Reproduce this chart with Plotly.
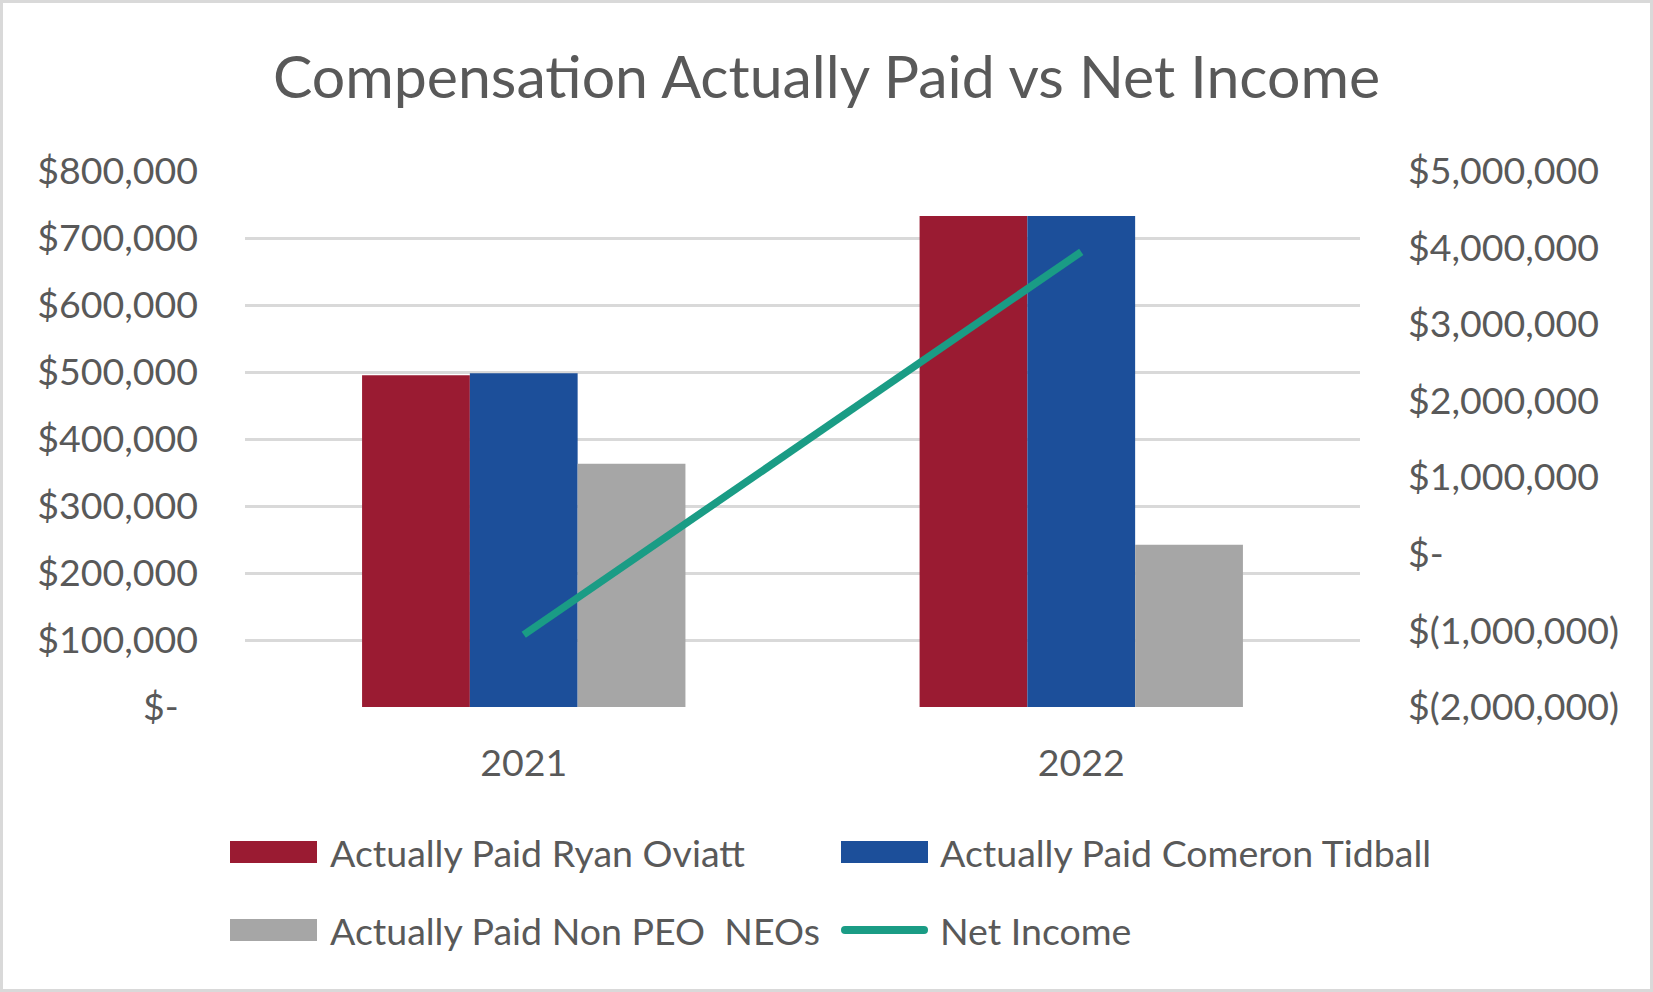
import plotly.graph_objects as go

years = ["2021", "2022"]
ryan_oviatt = [495000, 733000]
cameron_tidball = [498000, 733000]
non_peo_neos = [363000, 242000]
net_income = [-1056000, 3944000]

left_ticks = [0, 100000, 200000, 300000, 400000, 500000, 600000, 700000, 800000]
left_labels = ["$-\u00a0\u00a0", "$100,000", "$200,000", "$300,000", "$400,000",
               "$500,000", "$600,000", "$700,000", "$800,000"]
right_ticks = [-2000000, -1000000, 0, 1000000, 2000000, 3000000, 4000000, 5000000]
right_labels = ["$(2,000,000)", "$(1,000,000)", "$-", "$1,000,000", "$2,000,000",
                "$3,000,000", "$4,000,000", "$5,000,000"]

legend_names = ["Actually Paid Ryan Oviatt", "Actually Paid Comeron Tidball",
                "Actually Paid Non PEO  NEOs", "Net Income"]

RED = "#9A1B32"
BLUE = "#1C4F9A"
GRAY = "#A6A6A6"
TEAL = "#1A9C85"
TXT = "#595959"
FONT = "Lato"
FS = 37.5

W, H = 1653, 992
ML, MR, MT, MB = 245, 293, 171, 285
PW = W - ML - MR
PH = H - MT - MB

def px(x):
    return (x - ML) / PW

def py(y):
    return (H - MB - y) / PH

fig = go.Figure()
fig.add_trace(go.Bar(x=years, y=ryan_oviatt, name=legend_names[0], marker=dict(color=RED, line=dict(width=0))))
fig.add_trace(go.Bar(x=years, y=cameron_tidball, name=legend_names[1], marker=dict(color=BLUE, line=dict(width=0))))
fig.add_trace(go.Bar(x=years, y=non_peo_neos, name=legend_names[2], marker=dict(color=GRAY, line=dict(width=0))))
fig.add_trace(go.Scatter(x=years, y=net_income, name=legend_names[3], mode="lines",
                         line=dict(color=TEAL, width=7.5), yaxis="y2"))

shapes = []
annotations = []
# outer border
shapes.append(dict(type="rect", xref="paper", yref="paper",
                   x0=px(1.5), x1=px(W - 1.5), y0=py(H - 1.5), y1=py(1.5),
                   line=dict(color="#D9D9D9", width=3), layer="below"))

# custom legend
items = [
    (legend_names[0], RED, "bar", 230, 317, 852, 328),
    (legend_names[1], BLUE, "bar", 841, 928, 852, 938),
    (legend_names[2], GRAY, "bar", 230, 317, 930, 328),
    (legend_names[3], TEAL, "line", 841, 928, 930, 938),
]
for name, col, kind, x0, x1, yc, tx in items:
    if kind == "bar":
        shapes.append(dict(type="rect", xref="paper", yref="paper",
                           x0=px(x0), x1=px(x1), y0=py(yc + 11), y1=py(yc - 11),
                           fillcolor=col, line=dict(width=0)))
    else:
        shapes.append(dict(type="line", xref="paper", yref="paper",
                           x0=px(x0 + 4), x1=px(x1 - 4), y0=py(yc), y1=py(yc),
                           line=dict(color=col, width=8)))
        for cx in (x0 + 4, x1 - 4):
            shapes.append(dict(type="circle", xref="paper", yref="paper",
                               x0=px(cx - 4), x1=px(cx + 4), y0=py(yc + 4), y1=py(yc - 4),
                               fillcolor=col, line=dict(width=0)))
    annotations.append(dict(text=name, xref="paper", yref="paper", x=px(tx), y=py(yc),
                            xanchor="left", yanchor="middle", showarrow=False,
                            font=dict(family=FONT, size=FS, color=TXT)))

fig.update_layout(
    width=W, height=H,
    margin=dict(l=ML, r=MR, t=MT, b=MB, autoexpand=False),
    paper_bgcolor="white", plot_bgcolor="white",
    showlegend=False,
    title=dict(text="Compensation Actually Paid vs Net Income", x=0.5, xanchor="center",
               y=1 - 77 / H, yanchor="middle", yref="container",
               font=dict(family=FONT, size=59, color=TXT)),
    barmode="group", bargap=0.42, bargroupgap=0,
    xaxis=dict(type="category", showgrid=False, showline=False, zeroline=False,
               tickfont=dict(family=FONT, size=FS, color=TXT), ticks="", ticklabelstandoff=30),
    yaxis=dict(range=[0, 800000], tickvals=left_ticks, ticktext=left_labels,
               showgrid=True, gridcolor="#D9D9D9", gridwidth=2.5, zeroline=False, showline=False,
               tickfont=dict(family=FONT, size=FS, color=TXT), ticks="", ticklabelstandoff=46),
    yaxis2=dict(range=[-2000000, 5000000], tickvals=right_ticks, ticktext=right_labels,
                overlaying="y", side="right", showgrid=False, zeroline=False, showline=False,
                tickfont=dict(family=FONT, size=FS, color=TXT), ticks="", ticklabelstandoff=47),
    shapes=shapes, annotations=annotations,
)

fig.write_html("out.html")
